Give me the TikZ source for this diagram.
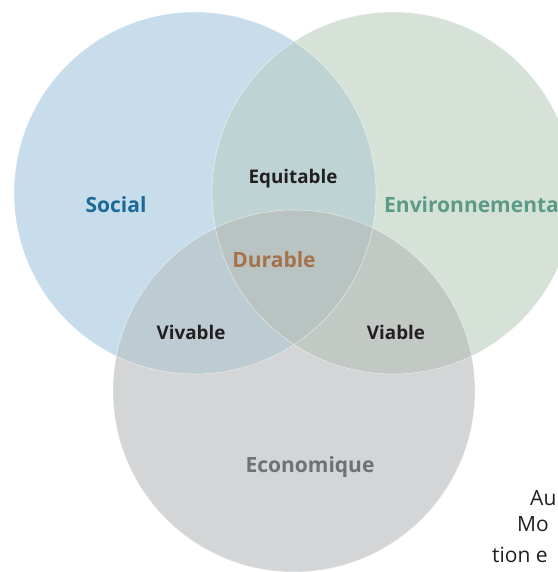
\documentclass[tikz,border=0pt]{standalone}
\usepackage{fontspec}
\setmainfont{Open Sans}
\begin{document}
\definecolor{socfill}{HTML}{C8DDEB}
\definecolor{envfill}{HTML}{D6E2D8}
\definecolor{ecofill}{HTML}{D3D5D7}
\definecolor{sefill}{HTML}{BED3D3}
\definecolor{scfill}{HTML}{BDCBD2}
\definecolor{ecfill}{HTML}{C2C8C3}
\definecolor{allfill}{HTML}{B9C4C2}
\definecolor{soctext}{HTML}{1B6A98}
\definecolor{envtext}{HTML}{5B9B88}
\definecolor{durtext}{HTML}{A6714C}
\definecolor{ecotext}{HTML}{6E7277}
\definecolor{ink}{HTML}{231F20}
\tikzset{
  label/.style={font=\fontsize{18.8}{22}\selectfont\bfseries, anchor=base, inner sep=0pt},
  biglabel/.style={font=\fontsize{21}{24}\selectfont\bfseries, anchor=base, inner sep=0pt},
  note/.style={font=\fontsize{21}{24}\selectfont, text=ink, anchor=base west, inner sep=0pt},
  rim/.style={draw=white, draw opacity=0.55, line width=0.6pt}
}
\begin{tikzpicture}[x=1pt,y=-1pt]
\useasboundingbox (0,0) rectangle (557,572);
\coordinate (S) at (195,193);
\coordinate (E) at (393,193);
\coordinate (C) at (294,391);
% the three spheres
\fill[socfill] (S) circle[radius=181pt];
\fill[envfill] (E) circle[radius=181pt];
\fill[ecofill] (C) circle[radius=181pt];
% pairwise overlaps
\begin{scope}
  \clip (S) circle[radius=181pt];
  \fill[sefill] (E) circle[radius=181pt];
  \fill[scfill] (C) circle[radius=181pt];
\end{scope}
\begin{scope}
  \clip (E) circle[radius=181pt];
  \fill[ecfill] (C) circle[radius=181pt];
\end{scope}
% common core
\begin{scope}
  \clip (S) circle[radius=181pt];
  \clip (E) circle[radius=181pt];
  \fill[allfill] (C) circle[radius=181pt];
\end{scope}
% faint rims
\draw[rim] (S) circle[radius=181pt];
\draw[rim] (E) circle[radius=181pt];
\draw[rim] (C) circle[radius=181pt];
% labels
\node[biglabel, text=soctext] (social) at (116,212) {Social};
\node[biglabel, text=envtext, anchor=base west] (env) at (384,212) {Environnemental};
\node[biglabel, text=ecotext] (eco) at (310,472) {Economique};
\node[label, text=ink] (equit) at (293,183) {Equitable};
\node[biglabel, text=durtext] (dur) at (274,267) {Durable};
\node[label, text=ink] (viv) at (191,339) {Vivable};
\node[label, text=ink] (via) at (396,339) {Viable};
% side text
\node[note] (n1) at (530,505) {Au};
\node[note] (n2) at (517,531) {Mo};
\node[note] (n3) at (492,562) {tion e};
\end{tikzpicture}
\end{document}
